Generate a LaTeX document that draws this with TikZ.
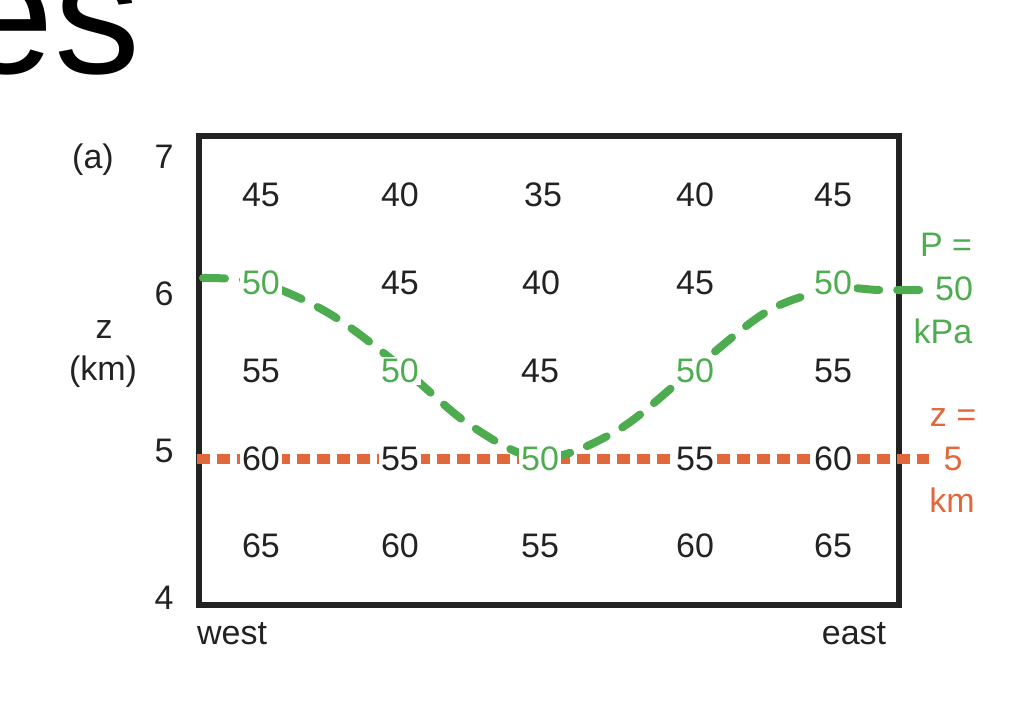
\documentclass[tikz,border=0pt]{standalone}
\usepackage{fontspec}
\setmainfont{Liberation Sans}
\definecolor{ink}{RGB}{34,34,34}
\definecolor{pgreen}{RGB}{78,172,80}
\definecolor{zorange}{RGB}{224,104,58}
\begin{document}
\begin{tikzpicture}[x=0.5pt,y=-0.5pt,
  lab/.style={font=\fontsize{17}{20}\selectfont, text=ink, inner sep=1pt},
  num/.style={lab, fill=white},
  gnum/.style={num, text=pgreen},
  glab/.style={lab, text=pgreen},
  olab/.style={lab, text=zorange},
  framebox/.style={draw=ink, line width=2.6pt},
  pline/.style={draw=pgreen, line width=4pt, line cap=round, dash pattern=on 11pt off 9pt},
  zline/.style={draw=zorange, line width=5pt, line cap=butt, dash pattern=on 6.5pt off 3.5pt}]
\useasboundingbox (0,0) rectangle (1012,724);
% big title fragment
\node[anchor=base east, inner sep=0pt, text=black, font=\fontsize{86}{90}\selectfont] (title) at (141,73) {es};
% frame
\draw[framebox] (199,136) rectangle (899,605);
% z = 5 km line
\coordinate (zleft) at (197,459);
\coordinate (zend) at (929,459);
\draw[zline] (zleft) -- (zend);
% P = 50 kPa curve
\draw[pline] plot[smooth, tension=0.55] coordinates {(203,278) (261,283) (330,314) (400,366) (470,425) (541,458) (618,430) (695,368) (768,311) (833,289) (880,290) (933,290)};
% grid values
\node[num] (r1c1) at (261,195) {45};
\node[num] (r1c2) at (400,195) {40};
\node[num] (r1c3) at (543,195) {35};
\node[num] (r1c4) at (695,195) {40};
\node[num] (r1c5) at (833,195) {45};
\node[gnum] (r2c1) at (261,283) {50};
\node[num] (r2c2) at (400,283) {45};
\node[num] (r2c3) at (541,283) {40};
\node[num] (r2c4) at (695,283) {45};
\node[gnum] (r2c5) at (833,283) {50};
\node[num] (r3c1) at (261,371) {55};
\node[gnum] (r3c2) at (400,371) {50};
\node[num] (r3c3) at (540,371) {45};
\node[gnum] (r3c4) at (695,371) {50};
\node[num] (r3c5) at (833,371) {55};
\node[num] (r4c1) at (261,459) {60};
\node[num] (r4c2) at (400,459) {55};
\node[gnum] (r4c3) at (540,459) {50};
\node[num] (r4c4) at (695,459) {55};
\node[num] (r4c5) at (833,459) {60};
\node[num] (r5c1) at (261,546) {65};
\node[num] (r5c2) at (400,546) {60};
\node[num] (r5c3) at (540,546) {55};
\node[num] (r5c4) at (695,546) {60};
\node[num] (r5c5) at (833,546) {65};
% axis labels
\node[lab] (pa) at (93,160) {(a)};
\node[lab] (y7) at (164,157) {7};
\node[lab] (y6) at (164,294) {6};
\node[lab] (y5) at (164,451) {5};
\node[lab] (y4) at (164,598) {4};
\node[lab] (zz) at (104,330) {z};
\node[lab] (zkm) at (103,372) {(km)};
\node[lab] (west) at (232,634) {west};
\node[lab] (east) at (854,634) {east};
% right labels
\node[glab] (p1) at (946,245) {P =};
\node[glab] (p2) at (954,289) {50};
\node[glab] (p3) at (943,331) {kPa};
\node[olab] (z1) at (953,418) {z =};
\node[olab] (z2) at (953,459) {5};
\node[olab] (z3) at (952,500) {km};
\end{tikzpicture}
\end{document}
